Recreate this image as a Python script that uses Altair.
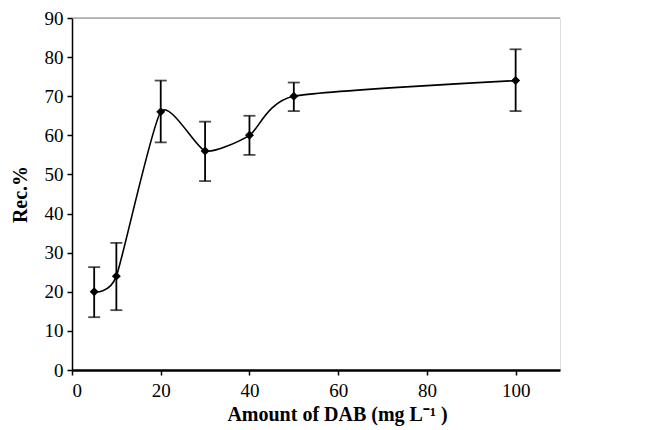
import altair as alt
import pandas as pd

amount = [5, 10, 20, 30, 40, 50, 100]
rec = [20, 24, 66, 56, 60, 70, 74]
err_low = [13.5, 15.3, 58.2, 48.3, 55.0, 66.2, 66.2]
err_high = [26.3, 32.5, 74.0, 63.5, 65.0, 73.5, 82.0]

df = pd.DataFrame({"x": amount, "y": rec, "lo": err_low, "hi": err_high})

FONT = "Liberation Serif"

xscale = alt.Scale(domain=[0, 110], nice=False, zero=True)
yscale = alt.Scale(domain=[0, 90], nice=False)

xaxis = alt.Axis(values=[0, 20, 40, 60, 80, 100], title="Amount of DAB (mg L\u207b\u00b9 )",
                 domainWidth=2.5, titlePadding=4, labelPadding=6, titleX=265)
yaxis = alt.Axis(values=list(range(0, 91, 10)), title="Rec.%",
                 domainWidth=1.5, titlePadding=14, labelPadding=4)

X = alt.X("x:Q", scale=xscale, axis=xaxis)
Y = alt.Y("y:Q", scale=yscale, axis=yaxis)

base = alt.Chart(df)

line = base.mark_line(interpolate="cardinal", tension=0.4, color="black", strokeWidth=1.6).encode(
    x=X, y=Y
)

bars = base.mark_rule(color="black", strokeWidth=1.8).encode(
    x=X, y=alt.Y("lo:Q", scale=yscale, axis=yaxis), y2="hi:Q"
)
cap_lo = base.mark_tick(color="black", thickness=1.8, size=12, orient="horizontal").encode(
    x=X, y=alt.Y("lo:Q", scale=yscale, axis=yaxis)
)
cap_hi = base.mark_tick(color="black", thickness=1.8, size=12, orient="horizontal").encode(
    x=X, y=alt.Y("hi:Q", scale=yscale, axis=yaxis)
)
pts = base.mark_point(shape="diamond", filled=True, color="black", size=80, opacity=1).encode(
    x=X, y=Y
)

top = alt.Chart(pd.DataFrame({"t": [90]})).mark_rule(color="#808080", strokeWidth=1.2).encode(
    y=alt.Y("t:Q", scale=yscale, axis=yaxis)
)

chart = alt.layer(top, line, bars, cap_lo, cap_hi, pts).properties(
    width=488, height=352, padding={"left": 2, "top": 1, "right": 5, "bottom": 2}
).configure_view(stroke=None).configure(background="white").configure_axis(
    grid=False, domainColor="black", tickColor="black", tickSize=5, tickWidth=1.5,
    labelFont=FONT, labelFontSize=19, labelColor="black",
    titleFont=FONT, titleFontSize=20, titleFontWeight="bold", titleColor="black",
)

chart.save("out.html", embed_options={"renderer": "svg", "actions": False})
